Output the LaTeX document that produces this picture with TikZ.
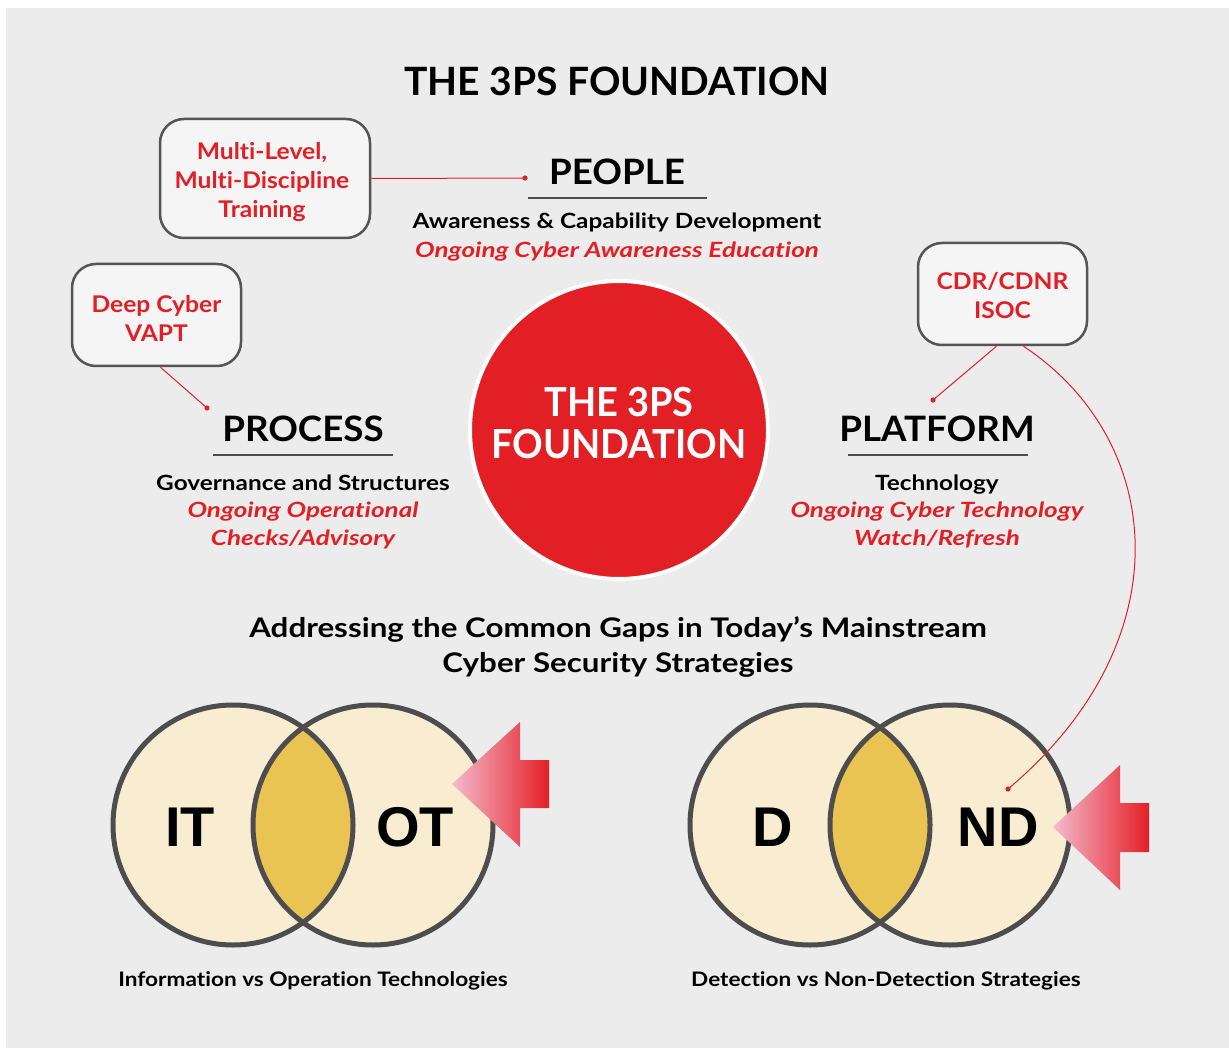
\documentclass[tikz,border=0pt]{standalone}
\usepackage{fontspec}
\setmainfont{Lato}[Ligatures=NoCommon]
\newfontfamily\heavyfont{Liberation Sans}
\newfontfamily\headfont{Lato}[FakeStretch=1.05,Ligatures=NoCommon]
\newfontfamily\boxfont{Lato}[FakeStretch=1.07,Ligatures=NoCommon]
\newfontfamily\subfont{Lato}[FakeStretch=1.16,Ligatures=NoCommon]
\newfontfamily\itfont{Lato}[FakeStretch=1.24,Ligatures=NoCommon]
\newfontfamily\corefont{Lato}[FakeStretch=0.95,Ligatures=NoCommon]
\newfontfamily\capfont{Lato}[FakeStretch=1.13,Ligatures=NoCommon]
\definecolor{myred}{HTML}{E31F26}
\definecolor{bgcol}{HTML}{ECECEC}
\definecolor{boxfill}{HTML}{F5F5F5}
\definecolor{boxline}{HTML}{555555}
\definecolor{ringcol}{HTML}{4D4D4F}
\definecolor{cream}{HTML}{F8EDD0}
\definecolor{gold}{HTML}{E9C452}
\definecolor{pinkish}{HTML}{F4BACD}
\tikzset{
  calloutbox/.style={draw=boxline, line width=2.5, fill=boxfill, rounded corners=24, inner sep=0},
  redtxt/.style={text=myred, font=\boxfont\bfseries\fontsize{23}{29}\selectfont, align=center, anchor=base},
  headtxt/.style={font=\headfont\bfseries\fontsize{35}{35}\selectfont, anchor=base},
  subtxt/.style={font=\subfont\bfseries\fontsize{21}{27}\selectfont, anchor=base},
  ittxt/.style={text=myred, font=\itfont\bfseries\itshape\fontsize{21}{27}\selectfont, anchor=base},
  rule/.style={draw=ringcol, line width=1.5},
  link/.style={draw=myred, line width=1},
  dotmark/.style={fill=myred},
  ring/.style={draw=ringcol, line width=5},
  bigletter/.style={font=\heavyfont\bfseries\fontsize{56}{56}\selectfont, anchor=base},
  captxt/.style={font=\capfont\bfseries\fontsize{20}{24}\selectfont, anchor=base},
  gaptxt/.style={font=\subfont\bfseries\fontsize{27}{35}\selectfont, anchor=base},
  coretxt/.style={text=white, font=\corefont\bfseries\fontsize{40}{40}\selectfont, anchor=base},
}
\begin{document}
\begin{tikzpicture}[x=1pt,y=-1pt]
\useasboundingbox (0,0) rectangle (1229,1048);
\fill[bgcol] (6,8) rectangle (1229,1048);

% title
\node[font=\bfseries\fontsize{39}{39}\selectfont, anchor=base] (title) at (617,96) {THE 3PS FOUNDATION};

% central circle
\node[circle, fill=myred, draw=white, line width=4, minimum size=298, inner sep=0] (core) at (619,430) {};
\node[coretxt] (coretop) at (619,417) {THE 3PS};
\node[coretxt] (corebot) at (619,458) {FOUNDATION};

% PEOPLE
\node[headtxt] (people) at (617,185) {PEOPLE};
\coordinate (peopleL) at (528,198);
\coordinate (peopleR) at (707,198);
\draw[rule] (peopleL) -- (peopleR);
\node[subtxt] (peoplesub) at (617,229) {Awareness \& Capability Development};
\node[ittxt] (peopleit) at (617,258) {Ongoing Cyber Awareness Education};

% PROCESS
\node[headtxt] (process) at (303,442) {PROCESS};
\coordinate (processL) at (213,455);
\coordinate (processR) at (393,455);
\draw[rule] (processL) -- (processR);
\node[subtxt] (processsub) at (303,490) {Governance and Structures};
\node[ittxt] (processit1) at (303,517) {Ongoing Operational};
\node[ittxt] (processit2) at (303,545) {Checks/Advisory};

% PLATFORM
\node[headtxt] (platform) at (937,441) {PLATFORM};
\coordinate (platformL) at (848,455);
\coordinate (platformR) at (1028,455);
\draw[rule] (platformL) -- (platformR);
\node[subtxt] (platformsub) at (937,490) {Technology};
\node[ittxt] (platformit1) at (937,517) {Ongoing Cyber Technology};
\node[ittxt] (platformit2) at (937,545) {Watch/Refresh};

% callout boxes
\node[calloutbox, minimum width=210, minimum height=119] (box1) at (265,178.5) {};
\node[redtxt] (box1a) at (262,160) {Multi-Level,};
\node[redtxt] (box1b) at (262,189) {Multi-Discipline};
\node[redtxt] (box1c) at (262,218) {Training};

\node[calloutbox, minimum width=169, minimum height=102] (box2) at (156.5,315) {};
\node[redtxt] (box2a) at (156.5,313) {Deep Cyber};
\node[redtxt] (box2b) at (156.5,342) {VAPT};

\node[calloutbox, minimum width=169, minimum height=102] (box3) at (1002.5,294) {};
\node[redtxt] (box3a) at (1002.5,290) {CDR/CDNR};
\node[redtxt] (box3b) at (1002.5,319) {ISOC};

% connectors
\coordinate (dot1) at (525,178);
\coordinate (dot2) at (207,408);
\coordinate (dot3) at (933,400);
\coordinate (dot4) at (1008,789);
\draw[link] (box1.east) -- (dot1);
\draw[link] ([xshift=4]box2.south) -- (dot2);
\draw[link] ([xshift=-6]box3.south) -- (dot3);
\foreach \d in {dot1,dot2,dot3} \fill[dotmark] (\d) circle (2.6);

% Addressing heading
\node[gaptxt] (gap1) at (618,637) {Addressing the Common Gaps in Today’s Mainstream};
\node[gaptxt] (gap2) at (618,672) {Cyber Security Strategies};

% Venn 1
\coordinate (itc) at (233,825);
\coordinate (otc) at (373,825);
\fill[cream] (itc) circle (120);
\fill[cream] (otc) circle (120);
\begin{scope}
\clip (itc) circle (120);
\fill[gold] (otc) circle (120);
\end{scope}
\draw[ring] (itc) circle (120);
\draw[ring] (otc) circle (120);
\node[bigletter] (it) at (190,846) {IT};
\node[bigletter] (ot) at (415,846) {OT};

% Venn 2
\coordinate (dc) at (810,825);
\coordinate (ndc) at (950,825);
\fill[cream] (dc) circle (120);
\fill[cream] (ndc) circle (120);
\begin{scope}
\clip (dc) circle (120);
\fill[gold] (ndc) circle (120);
\end{scope}
\draw[ring] (dc) circle (120);
\draw[ring] (ndc) circle (120);
\node[bigletter] (d) at (773,846) {D};
\node[bigletter] (nd) at (998,846) {ND};

% long curved connector to ND
\draw[link] ([xshift=21]box3.south) .. controls (1165,440) and (1185,640) .. (dot4);
\fill[dotmark] (dot4) circle (2.6);

% arrows
\shade[left color=pinkish, right color=myred] (452,784) -- (520,722) -- (520,760) -- (549,760) -- (549,808) -- (520,808) -- (520,847) -- cycle;
\shade[left color=pinkish, right color=myred] (1053,827) -- (1120,765) -- (1120,803) -- (1149,803) -- (1149,852) -- (1120,852) -- (1120,890) -- cycle;

% captions
\node[captxt] (cap1) at (313,986) {Information vs Operation Technologies};
\node[captxt] (cap2) at (886,986) {Detection vs Non-Detection Strategies};
\end{tikzpicture}
\end{document}
